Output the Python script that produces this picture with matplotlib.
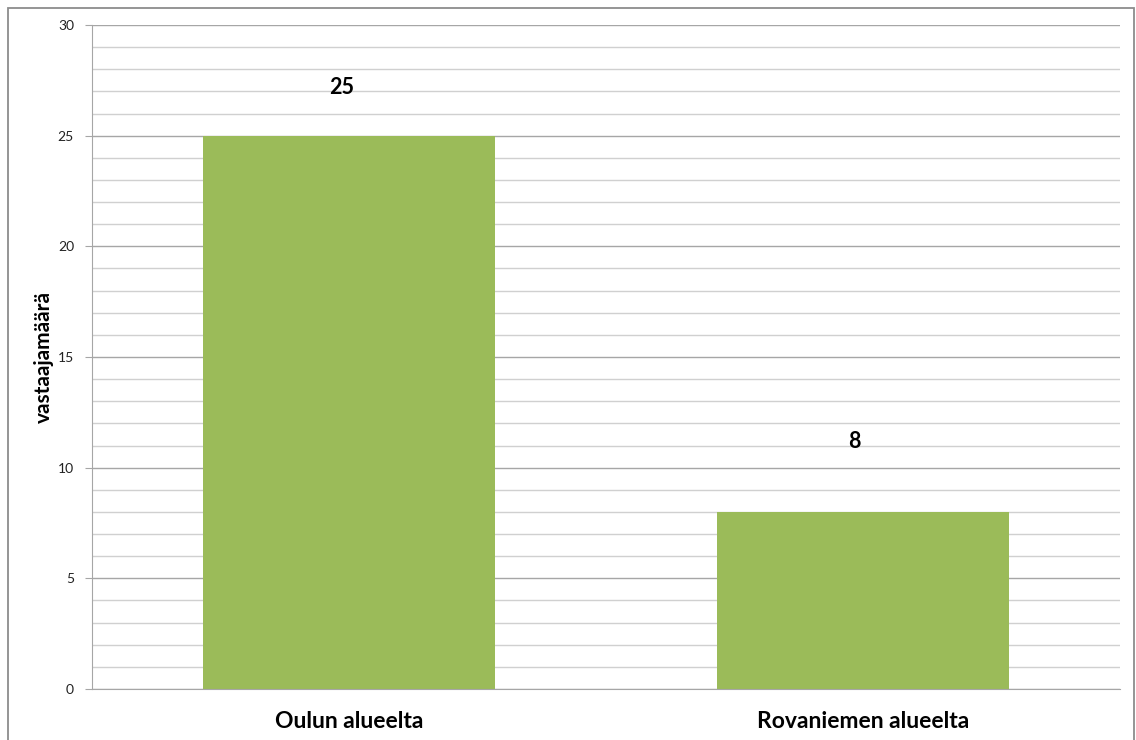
import matplotlib
matplotlib.use("Agg")
import matplotlib.pyplot as plt
from matplotlib.patches import Rectangle
from matplotlib.ticker import MultipleLocator

categories = ["Oulun alueelta", "Rovaniemen alueelta"]
values = [25, 8]
y_label = "vastaajamäärä"

plt.rcParams['font.family'] = ['Lato', 'DejaVu Sans']

W, H = 1136, 740
fig = plt.figure(figsize=(W/100, H/100), dpi=100)
ax = fig.add_axes([92/W, 1-689/H, (1120-92)/W, (689-25)/H])

x = list(range(len(categories)))
ax.bar(x, values, width=0.57, color="#9BBB59", zorder=3)
ax.set_xlim(-0.5, 1.5)
ax.set_ylim(0, 30)
ax.yaxis.set_major_locator(MultipleLocator(5))
ax.yaxis.set_minor_locator(MultipleLocator(1))
ax.grid(which='major', axis='y', color='#a6a6a6', linewidth=1.0, zorder=1)
ax.grid(which='minor', axis='y', color='#d0d0d0', linewidth=1.0, zorder=1)
ax.set_axisbelow(True)

for s in ['top', 'right']:
    ax.spines[s].set_visible(False)
ax.spines['left'].set_color('#a6a6a6')
ax.spines['bottom'].set_color('#a6a6a6')
ax.spines['left'].set_zorder(4)
ax.spines['bottom'].set_zorder(4)

ax.tick_params(axis='y', which='major', length=5, color='#a6a6a6', labelsize=10, labelcolor='#222222', pad=8)
ax.tick_params(axis='y', which='minor', length=0)
ax.tick_params(axis='x', length=0, pad=16)
ax.set_xticks(x)
ax.set_xticklabels(categories, fontsize=16.5, fontweight='bold')

ax.set_ylabel(y_label, fontsize=15, fontweight='bold', labelpad=3)

label_offsets_pt = [(-5, 35), (-6, 51)]
for xi, v, off in zip(x, values, label_offsets_pt):
    ax.annotate(str(v), (xi, v), xytext=off, textcoords='offset points',
                ha='center', va='center', fontsize=15.5, fontweight='bold')

fig.patches.append(Rectangle((8/W, -0.1), (1134-8)/W, 1.1 - 8/H, transform=fig.transFigure,
                             fill=False, edgecolor='#8c8c8c', linewidth=1.3))

fig.savefig("out.png", dpi=100)
